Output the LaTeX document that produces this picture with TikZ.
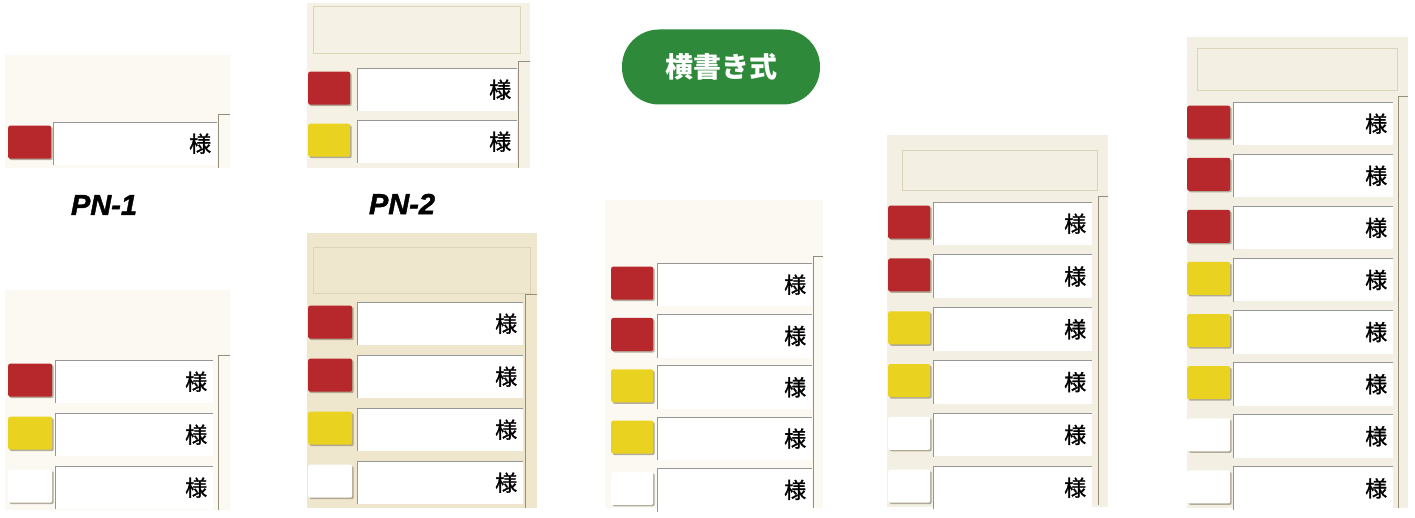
\documentclass[tikz,border=0pt]{standalone}
\usepackage{fontspec}
\setmainfont{Liberation Sans}
\newfontfamily\jp{Noto Sans CJK JP}
\newfontfamily\jpm[FakeBold=1.2]{Noto Sans CJK JP}
\newfontfamily\pnfont[FakeBold=1.5]{Liberation Sans}
\usetikzlibrary{shadows}
\definecolor{pillgreen}{RGB}{46,138,58}
\definecolor{sqR}{RGB}{182,40,44}
\definecolor{sqY}{RGB}{233,211,32}
\definecolor{bgfaint}{RGB}{251,249,241}
\definecolor{bglight}{RGB}{245,241,228}
\definecolor{bgmid}{RGB}{243,239,226}
\definecolor{bgdeep}{RGB}{238,230,205}
\definecolor{plateline}{RGB}{220,212,184}
\definecolor{edgegrey}{RGB}{150,150,150}
\definecolor{railcol}{RGB}{150,142,122}
\definecolor{shadowcol}{RGB}{150,140,120}
\tikzset{
  plate/.style={draw=plateline, line width=0.8pt},
  labelbox/.style={fill=white, draw=none, inner xsep=6pt, inner ysep=0pt,
    minimum height=43pt, align=right, font=\jpm\fontsize{22}{22}\selectfont},
  labeledge/.style={draw=edgegrey, line width=0.8pt},
  square/.style={draw=none, rounded corners=2pt, minimum height=33pt, inner sep=0pt,
    drop shadow={shadow xshift=1.5pt, shadow yshift=-1.5pt, fill=shadowcol, opacity=0.7}},
  rail/.style={draw=railcol, line width=1pt},
  pnlabel/.style={font=\pnfont\fontsize{29}{29}\selectfont\bfseries\itshape, inner sep=0pt},
  pill/.style={fill=pillgreen, text=white, rounded corners=37pt, minimum width=198pt,
    minimum height=75pt, font=\jp\bfseries\fontsize{28}{28}\selectfont}
}
% #1 prefix, #2 square x, #3 square width, #4 label x, #5 label width, #6 first top, #7 step, #8 colours
\newcommand\mkrows[8]{%
  \foreach \c [count=\i from 0] in {#8} {
    \pgfmathsetmacro\yt{#6+#7*\i}
    \pgfmathsetmacro\tw{#5-12}
    \node[labelbox, minimum width=#5pt, text width=\tw pt, anchor=north west] (#1l\i) at (#4,\yt) {様};
    \draw[labeledge] (#1l\i.south west) -- (#1l\i.north west) -- (#1l\i.north east);
    \node[square, fill=\c, minimum width=#3pt, anchor=north west] (#1s\i) at (#2,\yt+3.5) {};
  }%
}
\begin{document}
\begin{tikzpicture}[x=1pt,y=-1pt]
\useasboundingbox (0,0) rectangle (1415,518);
\fill[white] (0,0) rectangle (1415,518);

% Board 1 (PN-1, single)
\fill[bgfaint] (5,55) rectangle (230,168);
\mkrows{a}{8}{43}{53}{164}{122}{52}{sqR}
\draw[rail] (230,115) -- (218,115) -- (218,168);
\node[pnlabel] (pn1) at (104,205) {PN-1};

% Board 2 (PN-2, top)
\fill[bglight] (307,3) rectangle (530,168);
\draw[plate] (313,6) rectangle (520,53);
\mkrows{b}{308}{42}{357}{160}{68}{52}{sqR,sqY}
\draw[rail] (530,62) -- (518,62) -- (518,168);
\node[pnlabel] (pn2) at (402,204) {PN-2};

% Title pill
\node[pill] (title) at (721,67) {横書き式};

% Board 3 (bottom left)
\fill[bgfaint] (5,290) rectangle (230,510);
\mkrows{c}{8}{44}{55}{158}{360}{53}{sqR,sqY,white}
\draw[rail] (230,355) -- (218,355) -- (218,510);

% Board 4 (PN-2 bottom, 4 rows)
\fill[bgdeep] (307,233) rectangle (537,508);
\draw[plate] (313,247) rectangle (530,293);
\mkrows{d}{308}{44}{357}{166}{302}{53}{sqR,sqR,sqY,white}
\draw[rail] (537,295) -- (525,295) -- (525,508);

% Board 5 (5 rows)
\fill[bgfaint] (605,200) rectangle (823,508);
\mkrows{e}{611}{42}{657}{155}{263}{51.3}{sqR,sqR,sqY,sqY,white}
\draw[rail] (823,257) -- (813,257) -- (813,508);

% Board 6 (6 rows)
\fill[bgmid] (887,135) rectangle (1108,507);
\draw[plate] (902,150) rectangle (1097,190);
\mkrows{f}{888}{42}{933}{159}{202}{52.8}{sqR,sqR,sqY,sqY,white,white}
\draw[rail] (1108,197) -- (1098,197) -- (1098,505);

% Board 7 (8 rows)
\fill[bgmid] (1187,37) rectangle (1408,508);
\draw[plate] (1197,48) rectangle (1397,90);
\mkrows{g}{1187}{43}{1233}{160}{102}{52.1}{sqR,sqR,sqR,sqY,sqY,sqY,white,white}
\draw[rail] (1408,97) -- (1398,97) -- (1398,508);
\end{tikzpicture}
\end{document}
